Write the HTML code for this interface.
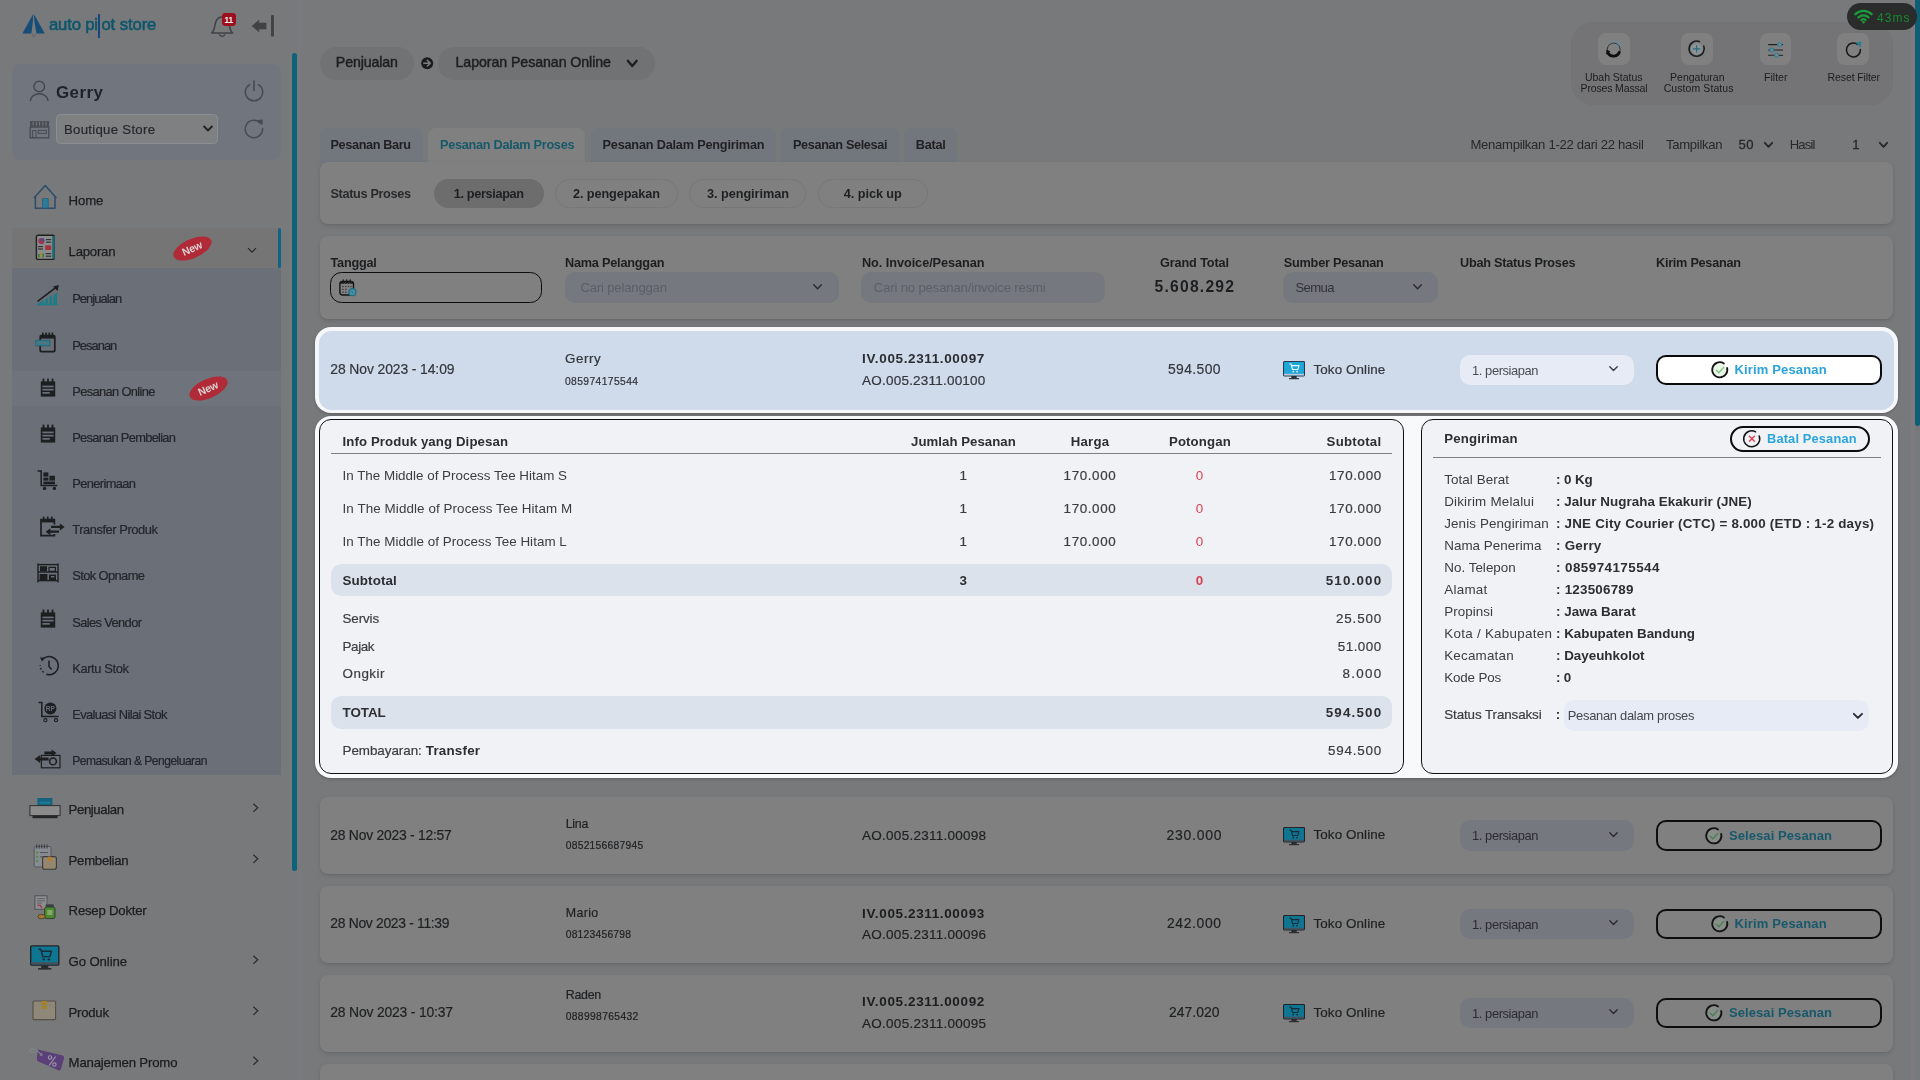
<!DOCTYPE html>
<html>
<head>
<meta charset="utf-8">
<style>
*{box-sizing:border-box;margin:0;padding:0}
html,body{width:1920px;height:1080px;overflow:hidden}
body{font-family:"Liberation Sans",sans-serif;background:#78797b;color:#222;position:relative}
.a{position:absolute}
.t{position:absolute;white-space:nowrap;line-height:1}
svg{overflow:visible}
#w{position:absolute;left:0;top:0;width:1920px;height:1080px;will-change:transform}
</style>
</head>
<body>
<div id="w">
<svg class="a" style="left:20px;top:12px;" width="28" height="28" viewBox="0 0 28 28">
      <polygon points="13.2,2 2.4,21.6 11.4,21.6 12.9,9" fill="#164d76"/>
      <polygon points="13.9,2 24.8,21.6 16.4,21.6 14.3,9" fill="#164d76"/>
      <path d="M12.2 21.8 L13.6 25.2 L15.6 21.8" fill="none" stroke="#5a626c" stroke-width="0.9"/>
    </svg>
<div class="t" style="left:49.00px;top:17.00px;font-size:16.7px;color:#0e566b;letter-spacing:-0.185px;-webkit-text-stroke:0.6px #0e566b;">auto pi</div>
<div class="a" style="left:98.3px;top:14px;width:1.8px;height:24px;background:#16467c;"></div>
<div class="t" style="left:101.40px;top:17.00px;font-size:16.7px;color:#0e566b;letter-spacing:-0.094px;-webkit-text-stroke:0.6px #0e566b;">ot store</div>
<svg class="a" style="left:209px;top:14px;" width="26" height="24" viewBox="0 0 26 24">
      <path d="M2.6 19 C5.8 16.4 5.4 12 6.6 8.4 C7.8 4.6 11 3 13.1 3 C15.2 3 18.4 4.6 19.6 8.4 C20.8 12 20.4 16.4 23.6 19 Z" fill="none" stroke="#404246" stroke-width="1.6" stroke-linejoin="round"/>
      <path d="M10.2 20.4 C11 23 15.2 23 16 20.4" fill="none" stroke="#404246" stroke-width="1.5"/>
    </svg>
<div class="a" style="left:221.8px;top:13px;width:14.2px;height:12.7px;background:#9d101d;border-radius:3.4px;"></div>
<div class="t" style="left:224.19px;top:16.00px;font-size:9.1px;color:#e8e8e8;font-weight:700;letter-spacing:-0.6px;">11</div>
<svg class="a" style="left:250px;top:14px;" width="26" height="24" viewBox="0 0 26 24">
      <polygon points="1.6,12 9.2,5.8 9.2,8.8 16.4,8.8 16.4,15.2 9.2,15.2 9.2,18.2" fill="#414244"/>
      <rect x="21" y="1" width="2.9" height="21.6" rx="1.2" fill="#414244"/>
    </svg>
<div class="a" style="left:12px;top:64px;width:269px;height:96px;background:#71767e;border-radius:8px;"></div>
<svg class="a" style="left:29px;top:79px;" width="21" height="24" viewBox="0 0 21 24">
      <circle cx="10.25" cy="7.5" r="5.3" fill="none" stroke="#44474c" stroke-width="1.4"/>
      <path d="M1.4 21.6 C2 12.6 18.4 12.6 19 21.6" fill="none" stroke="#44474c" stroke-width="1.5" stroke-linecap="round"/>
    </svg>
<div class="t" style="left:55.90px;top:85.00px;font-size:16.9px;color:#20242a;font-weight:700;letter-spacing:0.505px;">Gerry</div>
<svg class="a" style="left:243px;top:80px;" width="22" height="22" viewBox="0 0 22 22">
      <path d="M6.6 4.6 A8.7 8.7 0 1 0 15.4 4.6" fill="none" stroke="#474a50" stroke-width="1.6" stroke-linecap="round"/>
      <line x1="11" y1="1" x2="11" y2="10.5" stroke="#474a50" stroke-width="1.6" stroke-linecap="round"/>
    </svg>
<svg class="a" style="left:29px;top:119.5px;" width="21" height="19" viewBox="0 0 21 19">
      <rect x="1.2" y="7" width="18.6" height="10.8" fill="none" stroke="#484b50" stroke-width="1.3"/>
      <path d="M1 1 H20 V5.5 C20 8 17 8 16.8 5.5 C16.6 8 13.8 8 13.6 5.5 C13.4 8 10.6 8 10.4 5.5 C10.2 8 7.4 8 7.2 5.5 C7 8 4.2 8 4 5.5 C3.8 8 1 8 1 5.5 Z" fill="#4a4d52"/>
      <g stroke="#777b82" stroke-width="1"><line x1="4.2" y1="1.5" x2="4.2" y2="5.5"/><line x1="7.4" y1="1.5" x2="7.4" y2="5.5"/><line x1="10.6" y1="1.5" x2="10.6" y2="5.5"/><line x1="13.8" y1="1.5" x2="13.8" y2="5.5"/><line x1="17" y1="1.5" x2="17" y2="5.5"/></g>
      <rect x="3.6" y="10.6" width="3.4" height="7" fill="none" stroke="#484b50" stroke-width="1"/>
      <rect x="9.2" y="10.4" width="8.2" height="3" fill="none" stroke="#484b50" stroke-width="1"/>
    </svg>
<div class="a" style="left:55.5px;top:113.5px;width:162.5px;height:30px;background:#7f8082;border-radius:4.5px;border:1px solid #8b8e94;"></div>
<div class="t" style="left:64.00px;top:123.00px;font-size:13.2px;color:#26272a;letter-spacing:0.288px;-webkit-text-stroke:0.2px #26272a;">Boutique Store</div>
<svg class="a" style="left:202px;top:124px;" width="12" height="9" viewBox="0 0 12 9"><polyline points="1.6,2 6,6.4 10.4,2" fill="none" stroke="#232323" stroke-width="2"/></svg>
<svg class="a" style="left:243px;top:118px;" width="22" height="22" viewBox="0 0 22 22">
      <path d="M17.6 5.4 A8.7 8.7 0 1 0 19.6 10.4" fill="none" stroke="#474a50" stroke-width="1.5" stroke-linecap="round"/>
      <polygon points="14.2,2 19.8,1.6 19.4,7.2" fill="#474a50"/>
    </svg>
<svg class="a" style="left:32.5px;top:184px;" width="25" height="26" viewBox="0 0 25 26">
      <path d="M1.4 13.6 L12.2 1.6 L23 13.6" fill="none" stroke="#2a4d6a" stroke-width="1.5" stroke-linejoin="round" stroke-linecap="round"/>
      <path d="M2.4 12.6 V24.2 H22 V12.6" fill="none" stroke="#2a4d6a" stroke-width="1.5" stroke-linejoin="round"/>
      <rect x="9.6" y="14.6" width="5.6" height="9.4" fill="#2a7c98" stroke="#2a5f7e" stroke-width="0.8"/>
    </svg>
<div class="t" style="left:68.60px;top:194.00px;font-size:13.2px;color:#1c1d1f;letter-spacing:-0.162px;-webkit-text-stroke:0.25px #1c1d1f;">Home</div>
<div class="a" style="left:12px;top:228px;width:269px;height:40px;background:#757576;"></div>
<div class="a" style="left:277.8px;top:228px;width:3.2px;height:40px;background:#0f6485;border-radius:2px 2px 2px 2px;"></div>
<svg class="a" style="left:35px;top:234px;" width="21" height="27" viewBox="0 0 21 27">
      <rect x="1.4" y="1.2" width="17.8" height="24.2" rx="1.5" fill="#8a8d8f" stroke="#1f1f1f" stroke-width="1.4"/>
      <rect x="17.2" y="2" width="2.6" height="22.6" fill="#1f6a72"/>
      <circle cx="6.4" cy="7" r="3.1" fill="#9a3752"/><path d="M6.4 7 V3.9 A3.1 3.1 0 0 1 9.5 7 Z" fill="#3b4f8a"/>
      <rect x="11" y="5" width="5.2" height="1.2" fill="#333"/><rect x="11" y="7.6" width="5.2" height="1.2" fill="#333"/>
      <rect x="3" y="12" width="5" height="1.2" fill="#333"/><rect x="3" y="14.4" width="5" height="1.2" fill="#333"/>
      <rect x="10.2" y="11.4" width="6" height="4.6" fill="#a3323c"/>
      <rect x="3" y="20" width="1.6" height="3.4" fill="#2d7f3e"/><rect x="5.2" y="18.6" width="1.6" height="4.8" fill="#b5852b"/><rect x="7.4" y="19.6" width="1.6" height="3.8" fill="#2d7f3e"/>
      <rect x="10.6" y="19" width="5.6" height="1.2" fill="#333"/><rect x="10.6" y="21.6" width="5.6" height="1.2" fill="#333"/>
    </svg>
<div class="t" style="left:68.60px;top:245.00px;font-size:13.2px;color:#1c1d1f;letter-spacing:-0.251px;-webkit-text-stroke:0.25px #1c1d1f;">Laporan</div>
<div class="a" style="left:171.5px;top:239.0px;width:41px;height:19px;border-radius:50%;background:#b02b37;transform:rotate(-24deg);"></div>
<div class="t" style="left:180px;top:243.0px;font-size:10.5px;font-weight:700;color:#d9cfd0;transform:rotate(-24deg);letter-spacing:-0.2px;width:24px;text-align:center;">New</div>
<svg class="a" style="left:247px;top:247px;" width="10" height="7" viewBox="0 0 10 7"><polyline points="1,1.2 5,5.2 9,1.2" fill="none" stroke="#2a2a2a" stroke-width="1.2"/></svg>
<div class="a" style="left:12px;top:268px;width:269px;height:507px;background:#6a6f78;"></div>
<div class="a" style="left:12px;top:370.5px;width:269px;height:35.5px;background:#6f747c;"></div>
<div class="t" style="left:72.20px;top:293.00px;font-size:12.9px;color:#23252a;letter-spacing:-0.918px;-webkit-text-stroke:0.2px #23252a;">Penjualan</div>
<svg class="a" style="left:36px;top:283.85px;" width="24" height="22" viewBox="0 0 24 22">
          <polygon points="1.5,20 21,8.5 21,20" fill="#1c7d86"/>
          <g stroke="#6a6f78" stroke-width="1.3"><line x1="8.4" y1="14" x2="8.4" y2="20"/><line x1="12.6" y1="12" x2="12.6" y2="20"/><line x1="16.8" y1="9" x2="16.8" y2="20"/></g>
          <line x1="1.2" y1="20.6" x2="21.6" y2="20.6" stroke="#1c7d86" stroke-width="1.4"/>
          <line x1="1.6" y1="17.4" x2="20" y2="3.4" stroke="#1d1e20" stroke-width="1.6"/>
          <polygon points="22.8,1 21.6,7 17,2.4" fill="#1d1e20"/>
        </svg>
<div class="t" style="left:72.20px;top:340.00px;font-size:12.9px;color:#23252a;letter-spacing:-0.965px;-webkit-text-stroke:0.2px #23252a;">Pesanan</div>
<svg class="a" style="left:35px;top:331.53000000000003px;" width="22" height="21" viewBox="0 0 22 21">
          <rect x="5.2" y="3.6" width="14.6" height="16" rx="1" fill="none" stroke="#1d1e20" stroke-width="1.7"/>
          <rect x="7" y="0.6" width="1.7" height="4.6" fill="#1d1e20"/><rect x="10.2" y="0.6" width="1.7" height="4.6" fill="#1d1e20"/><rect x="13.4" y="0.6" width="1.7" height="4.6" fill="#1d1e20"/><rect x="16.6" y="0.6" width="1.7" height="4.6" fill="#1d1e20"/>
          <rect x="5.4" y="3.6" width="14.2" height="3" fill="#1d1e20"/>
          <rect x="0.8" y="8.2" width="14.2" height="5.6" fill="#347c8a" stroke="#25626f" stroke-width="0.8"/>
          <rect x="3" y="10.2" width="9.6" height="1.6" fill="#6a6f78" opacity=".7"/>
        </svg>
<div class="t" style="left:72.20px;top:386.00px;font-size:12.9px;color:#23252a;letter-spacing:-0.649px;-webkit-text-stroke:0.2px #23252a;">Pesanan Online</div>
<svg class="a" style="left:40px;top:378.21000000000004px;" width="16" height="20" viewBox="0 0 16 20">
          <rect x="0.8" y="3.4" width="14.4" height="15.2" fill="#1d1e20"/>
          <rect x="2.6" y="0.6" width="1.8" height="4.4" fill="#1d1e20"/><rect x="7.1" y="0.6" width="1.8" height="4.4" fill="#1d1e20"/><rect x="11.6" y="0.6" width="1.8" height="4.4" fill="#1d1e20"/>
          <rect x="2.4" y="7.6" width="11.2" height="1.7" fill="#6a6f78"/><rect x="2.4" y="10.8" width="11.2" height="1.7" fill="#6a6f78"/><rect x="2.4" y="14" width="7.4" height="1.7" fill="#6a6f78"/>
        </svg>
<div class="t" style="left:72.20px;top:432.00px;font-size:12.9px;color:#23252a;letter-spacing:-0.724px;-webkit-text-stroke:0.2px #23252a;">Pesanan Pembelian</div>
<svg class="a" style="left:40px;top:424.39px;" width="16" height="20" viewBox="0 0 16 20">
          <rect x="0.8" y="3.4" width="14.4" height="15.2" fill="#1d1e20"/>
          <rect x="2.6" y="0.6" width="1.8" height="4.4" fill="#1d1e20"/><rect x="7.1" y="0.6" width="1.8" height="4.4" fill="#1d1e20"/><rect x="11.6" y="0.6" width="1.8" height="4.4" fill="#1d1e20"/>
          <rect x="2.4" y="7.6" width="11.2" height="1.7" fill="#6a6f78"/><rect x="2.4" y="10.8" width="11.2" height="1.7" fill="#6a6f78"/><rect x="2.4" y="14" width="7.4" height="1.7" fill="#6a6f78"/>
        </svg>
<div class="t" style="left:72.20px;top:478.00px;font-size:12.9px;color:#23252a;letter-spacing:-0.635px;-webkit-text-stroke:0.2px #23252a;">Penerimaan</div>
<svg class="a" style="left:36.5px;top:470.07000000000005px;" width="22" height="21" viewBox="0 0 22 21">
          <polyline points="0.6,1 4.2,1 4.2,15.4 20.4,15.4" fill="none" stroke="#1d1e20" stroke-width="1.5"/>
          <rect x="6.4" y="2.4" width="5" height="4.2" fill="#1d1e20"/>
          <rect x="6.4" y="7.6" width="5" height="3" fill="#1d1e20"/><rect x="12.4" y="5.8" width="5.6" height="4.8" fill="#1d1e20"/>
          <rect x="6.4" y="11.6" width="11.6" height="2.6" fill="#1d1e20"/>
          <circle cx="7.6" cy="18.4" r="1.7" fill="#1d1e20"/><circle cx="17.4" cy="18.4" r="1.7" fill="#1d1e20"/>
        </svg>
<div class="t" style="left:72.20px;top:524.00px;font-size:12.9px;color:#23252a;letter-spacing:-0.440px;-webkit-text-stroke:0.2px #23252a;">Transfer Produk</div>
<svg class="a" style="left:39.5px;top:516.25px;" width="26" height="21" viewBox="0 0 26 21">
          <path d="M14.4 8.6 V3.6 H1 V19.6 H14.4 V18" fill="none" stroke="#1d1e20" stroke-width="1.7"/>
          <rect x="1" y="3.6" width="13.4" height="2.8" fill="#1d1e20"/>
          <rect x="2.8" y="0.6" width="1.7" height="4.2" fill="#1d1e20"/><rect x="6.85" y="0.6" width="1.7" height="4.2" fill="#1d1e20"/><rect x="10.9" y="0.6" width="1.7" height="4.2" fill="#1d1e20"/>
          <path d="M11 9.8 H19.8 V7.4 L24.6 10.9 L19.8 14.4 V12 H11 Z" fill="#1d1e20"/>
          <path d="M19 14.6 H10.4 V12.2 L5.6 15.7 L10.4 19.2 V16.8 H19 Z" fill="#1d1e20"/>
        </svg>
<div class="t" style="left:72.20px;top:570.00px;font-size:12.9px;color:#23252a;letter-spacing:-0.603px;-webkit-text-stroke:0.2px #23252a;">Stok Opname</div>
<svg class="a" style="left:37px;top:563.4300000000001px;" width="22" height="20" viewBox="0 0 22 20">
          <g stroke="#1d1e20" stroke-width="1.4" fill="none"><line x1="1" y1="0.4" x2="1" y2="19.4"/><line x1="21" y1="0.4" x2="21" y2="19.4"/><line x1="1" y1="9" x2="21" y2="9"/><line x1="1" y1="17.6" x2="21" y2="17.6"/><line x1="1" y1="1.6" x2="21" y2="1.6"/></g>
          <rect x="3" y="3.2" width="7" height="5.2" fill="#1d1e20"/><rect x="12" y="4.4" width="6.4" height="4" fill="none" stroke="#1d1e20" stroke-width="1.2"/>
          <rect x="2.6" y="11" width="7.8" height="6" fill="#1d1e20"/><rect x="12" y="11.6" width="7" height="5.4" fill="#1d1e20"/>
          <rect x="14" y="13" width="3.4" height="1.4" fill="#6a6f78"/>
        </svg>
<div class="t" style="left:72.20px;top:617.00px;font-size:12.9px;color:#23252a;letter-spacing:-0.626px;-webkit-text-stroke:0.2px #23252a;">Sales Vendor</div>
<svg class="a" style="left:40px;top:609.11px;" width="16" height="20" viewBox="0 0 16 20">
          <rect x="0.8" y="3.4" width="14.4" height="15.2" fill="#1d1e20"/>
          <rect x="2.6" y="0.6" width="1.8" height="4.4" fill="#1d1e20"/><rect x="7.1" y="0.6" width="1.8" height="4.4" fill="#1d1e20"/><rect x="11.6" y="0.6" width="1.8" height="4.4" fill="#1d1e20"/>
          <rect x="2.4" y="7.6" width="11.2" height="1.7" fill="#6a6f78"/><rect x="2.4" y="10.8" width="11.2" height="1.7" fill="#6a6f78"/><rect x="2.4" y="14" width="7.4" height="1.7" fill="#6a6f78"/>
        </svg>
<div class="t" style="left:72.20px;top:663.00px;font-size:12.9px;color:#23252a;letter-spacing:-0.376px;-webkit-text-stroke:0.2px #23252a;">Kartu Stok</div>
<svg class="a" style="left:37.5px;top:654.79px;" width="22" height="22" viewBox="0 0 22 22">
          <path d="M6.2 3.2 A9 9 0 1 1 8.4 19.2" fill="none" stroke="#1d1e20" stroke-width="1.5"/>
          <path d="M5.6 17.4 A9 9 0 0 1 2.2 10" fill="none" stroke="#1d1e20" stroke-width="1.5" stroke-dasharray="1.6 2.2"/>
          <polygon points="2,2.6 7.4,2.4 4,6.6" fill="#1d1e20"/>
          <polyline points="11,5.6 11,11.4 13.6,14.4" fill="none" stroke="#1d1e20" stroke-width="1.5"/>
        </svg>
<div class="t" style="left:72.20px;top:709.00px;font-size:12.9px;color:#23252a;letter-spacing:-0.637px;-webkit-text-stroke:0.2px #23252a;">Evaluasi Nilai Stok</div>
<svg class="a" style="left:37.5px;top:700.97px;" width="22" height="22" viewBox="0 0 22 22">
          <polyline points="0.6,1.4 3.8,1.4 3.8,15.6 20.6,15.6" fill="none" stroke="#1d1e20" stroke-width="1.5"/>
          <circle cx="12.4" cy="7.6" r="6" fill="#1d1e20"/>
          <text x="12.4" y="10" font-size="6.6" font-weight="700" font-family="Liberation Sans" text-anchor="middle" fill="#6a6f78">RP</text>
          <circle cx="7.4" cy="19.2" r="1.6" fill="none" stroke="#1d1e20" stroke-width="1.1"/><circle cx="18" cy="19.2" r="1.6" fill="none" stroke="#1d1e20" stroke-width="1.1"/>
        </svg>
<div class="t" style="left:72.20px;top:755.00px;font-size:12.1px;color:#23252a;letter-spacing:-0.543px;-webkit-text-stroke:0.2px #23252a;">Pemasukan &amp; Pengeluaran</div>
<svg class="a" style="left:34px;top:748.6500000000001px;" width="27" height="20" viewBox="0 0 27 20">
          <rect x="7.4" y="6.4" width="18.6" height="12.4" fill="none" stroke="#1d1e20" stroke-width="1.2"/>
          <circle cx="19" cy="12.4" r="3.4" fill="none" stroke="#1d1e20" stroke-width="1.6"/>
          <path d="M10.4 2.6 H17.6 V0.4 L22.6 4 L17.6 7.6 V5.4 H10.4 Z" fill="#1d1e20"/>
          <path d="M14.6 8.4 H6.2 V6 L0.6 10 L6.2 14 V11.6 H14.6 Z" fill="#1d1e20"/>
        </svg>
<div class="a" style="left:187.9px;top:378.8px;width:41px;height:19px;border-radius:50%;background:#b02b37;transform:rotate(-24deg);"></div>
<div class="t" style="left:196.4px;top:382.8px;font-size:10.5px;font-weight:700;color:#d9cfd0;transform:rotate(-24deg);letter-spacing:-0.2px;width:24px;text-align:center;">New</div>
<div class="t" style="left:68.60px;top:803.00px;font-size:13.2px;color:#1c1d1f;letter-spacing:-0.409px;-webkit-text-stroke:0.25px #1c1d1f;">Penjualan</div>
<svg class="a" style="left:251.5px;top:803.1px;" width="8" height="10" viewBox="0 0 8 10"><polyline points="1.4,0.8 5.8,4.8 1.4,8.8" fill="none" stroke="#2a2a2a" stroke-width="1.2"/></svg>
<svg class="a" style="left:28.5px;top:796.8000000000001px;" width="32" height="22" viewBox="0 0 32 22">
          <rect x="8.4" y="1" width="15" height="7.6" fill="#14627d"/>
          <rect x="10.4" y="4.6" width="11" height="2.2" fill="#1f7b96"/>
          <rect x="0.9" y="8.6" width="30.2" height="10" fill="#8b8b8c" stroke="#2e2f31" stroke-width="1"/>
          <rect x="3.5" y="18.6" width="25" height="2.6" fill="#252627"/>
        </svg>
<div class="t" style="left:68.60px;top:854.00px;font-size:13.2px;color:#1c1d1f;letter-spacing:-0.289px;-webkit-text-stroke:0.25px #1c1d1f;">Pembelian</div>
<svg class="a" style="left:251.5px;top:853.7px;" width="8" height="10" viewBox="0 0 8 10"><polyline points="1.4,0.8 5.8,4.8 1.4,8.8" fill="none" stroke="#2a2a2a" stroke-width="1.2"/></svg>
<svg class="a" style="left:32.5px;top:844.2px;" width="25" height="27" viewBox="0 0 25 27">
          <rect x="1.2" y="2.6" width="16.8" height="20.4" rx="1" fill="#878c92" stroke="#55595f" stroke-width="1"/>
          <g stroke="#3a3c3f" stroke-width="1.1"><line x1="3.6" y1="0.6" x2="3.6" y2="4.6"/><line x1="6.2" y1="0.6" x2="6.2" y2="4.6"/><line x1="8.8" y1="0.6" x2="8.8" y2="4.6"/><line x1="11.4" y1="0.6" x2="11.4" y2="4.6"/><line x1="14" y1="0.6" x2="14" y2="4.6"/></g>
          <g fill="#5f8a4c"><rect x="3" y="7.4" width="2.4" height="2.4"/><rect x="3" y="11.6" width="2.4" height="2.4"/><rect x="3" y="15.8" width="2.4" height="2.4"/></g>
          <g stroke="#50545a" stroke-width="1"><line x1="7" y1="8.6" x2="15" y2="8.6"/><line x1="7" y1="12.8" x2="12" y2="12.8"/></g>
          <rect x="9.6" y="12.6" width="13.8" height="12.6" rx="2" fill="#94876f" stroke="#3b3a38" stroke-width="1.1"/>
          <rect x="14.8" y="12.6" width="3.4" height="4.6" fill="#b87b32"/>
        </svg>
<div class="t" style="left:68.60px;top:904.00px;font-size:13.2px;color:#1c1d1f;letter-spacing:-0.231px;-webkit-text-stroke:0.25px #1c1d1f;">Resep Dokter</div>
<svg class="a" style="left:33.5px;top:894.8px;" width="23" height="25" viewBox="0 0 23 25">
          <path d="M1 0.8 H13 V4 M1 0.8 V14.4 H7" fill="none" stroke="#55585d" stroke-width="1"/>
          <rect x="1" y="0.8" width="12" height="13.6" fill="#8a8d91" stroke="#55585d" stroke-width="1"/>
          <g stroke="#5a5d62" stroke-width="0.9"><line x1="3" y1="3.6" x2="11" y2="3.6"/><line x1="3" y1="5.8" x2="11" y2="5.8"/><line x1="3" y1="8" x2="8" y2="8"/></g>
          <path d="M3.4 10.4 h3 l1.6 3" stroke="#a8323e" stroke-width="1.2" fill="none"/>
          <rect x="11.6" y="9.2" width="8.2" height="3" rx="0.8" fill="#3d4145"/>
          <rect x="10.6" y="12" width="10.4" height="11.6" rx="2" fill="#4a8a2e" stroke="#2f3a2a" stroke-width="0.9"/>
          <rect x="13.2" y="15" width="5.2" height="5" fill="#86a86b"/>
          <ellipse cx="7.6" cy="21.6" rx="3.6" ry="2.2" fill="#a8762e" stroke="#4a3a22" stroke-width="0.8"/>
        </svg>
<div class="t" style="left:68.60px;top:955.00px;font-size:13.2px;color:#1c1d1f;letter-spacing:-0.124px;-webkit-text-stroke:0.25px #1c1d1f;">Go Online</div>
<svg class="a" style="left:251.5px;top:954.9px;" width="8" height="10" viewBox="0 0 8 10"><polyline points="1.4,0.8 5.8,4.8 1.4,8.8" fill="none" stroke="#2a2a2a" stroke-width="1.2"/></svg>
<svg class="a" style="left:30px;top:945.1999999999999px;" width="29.5" height="25.5" viewBox="0 0 30 25.5">
      <rect x="0.7" y="0.7" width="28.6" height="19.6" rx="1.2" fill="#0e7593" stroke="#222326" stroke-width="1.4"/>
      <rect x="1.4" y="17.4" width="27.2" height="2.2" fill="#4a4e55"/>
      <rect x="11.4" y="20.4" width="7.2" height="3" fill="#2a2b2d"/>
      <rect x="8.2" y="23.2" width="13.6" height="1.6" fill="#2a2b2d"/>
      <path d="M8.6 4 H11 L13 11.6 H20.2 L21.8 6.2 H11.6" fill="none" stroke="#1c2a33" stroke-width="1.5" stroke-linejoin="round"/>
      <circle cx="14" cy="14.4" r="1.2" fill="#1c2a33"/><circle cx="19.2" cy="14.4" r="1.2" fill="#1c2a33"/>
    </svg>
<div class="t" style="left:68.60px;top:1006.00px;font-size:13.2px;color:#1c1d1f;letter-spacing:-0.279px;-webkit-text-stroke:0.25px #1c1d1f;">Produk</div>
<svg class="a" style="left:251.5px;top:1005.5px;" width="8" height="10" viewBox="0 0 8 10"><polyline points="1.4,0.8 5.8,4.8 1.4,8.8" fill="none" stroke="#2a2a2a" stroke-width="1.2"/></svg>
<svg class="a" style="left:32.4px;top:1000px;" width="25" height="21" viewBox="0 0 25 21">
          <rect x="1" y="1" width="22.6" height="18.6" rx="1" fill="#8f8878" stroke="#544f47" stroke-width="1.1"/>
          <rect x="9.6" y="1" width="5.4" height="8" fill="#a3832a"/>
          <line x1="1" y1="5.6" x2="23.6" y2="5.6" stroke="#8a8274" stroke-width="0.8"/>
        </svg>
<div class="t" style="left:68.60px;top:1056.00px;font-size:13.2px;color:#1c1d1f;letter-spacing:-0.180px;-webkit-text-stroke:0.25px #1c1d1f;">Manajemen Promo</div>
<svg class="a" style="left:251.5px;top:1056.1px;" width="8" height="10" viewBox="0 0 8 10"><polyline points="1.4,0.8 5.8,4.8 1.4,8.8" fill="none" stroke="#2a2a2a" stroke-width="1.2"/></svg>
<svg class="a" style="left:27.5px;top:1045.6px;" width="38" height="27" viewBox="0 0 38 27">
          <path d="M10 3.6 L34.6 9.6 Q36.6 10.2 36 12.2 L33 23 Q32.4 25 30.4 24.2 L10.4 15.4 Q9 14.6 8.8 13 Z" fill="#5a3f78"/>
          <circle cx="13.2" cy="8.4" r="1.5" fill="#7b7c7e"/>
          <path d="M12.4 7.6 C8 2.4 1.4 1.4 1.6 4.4 C1.8 6.6 5.4 6.8 7.6 6" fill="none" stroke="#85878c" stroke-width="1.1"/>
          <g stroke="#9c93a8" stroke-width="1.1" fill="none"><circle cx="22" cy="11.4" r="1.7"/><circle cx="26.4" cy="18.6" r="1.7"/><line x1="27.6" y1="10.6" x2="21" y2="19.6"/></g>
        </svg>
<div class="a" style="left:292px;top:53px;width:5.2px;height:818px;background:#0e637b;border-radius:2.6px;"></div>
<div class="a" style="left:298.6px;top:0px;width:1.6px;height:1080px;background:#7d7a80;"></div>
<div class="a" style="left:1910.6px;top:0px;width:4px;height:1080px;background:#7e7b80;"></div>
<div class="a" style="left:1914.6px;top:-4px;width:5.4px;height:430px;background:#0e5f76;border-radius:2.7px;"></div>
<div class="a" style="left:319.5px;top:47px;width:94.5px;height:32.5px;background:#717273;border-radius:16.5px;"></div>
<div class="t" style="left:335.80px;top:55.00px;font-size:14.2px;color:#1e1f21;letter-spacing:-0.116px;-webkit-text-stroke:0.45px #1e1f21;">Penjualan</div>
<svg class="a" style="left:420.5px;top:56.8px;" width="12.4" height="12.4" viewBox="0 0 12.4 12.4">
      <circle cx="6.2" cy="6.2" r="6" fill="#1c1c1d"/>
      <path d="M2.8 6.2 H9 M6.4 3.4 L9.3 6.2 L6.4 9" fill="none" stroke="#7d7e80" stroke-width="1.5" stroke-linecap="round" stroke-linejoin="round"/>
    </svg>
<div class="a" style="left:438px;top:47px;width:216.5px;height:32.5px;background:#717273;border-radius:16.5px;"></div>
<div class="t" style="left:455.50px;top:55.00px;font-size:14.2px;color:#1e1f21;letter-spacing:-0.071px;-webkit-text-stroke:0.45px #1e1f21;">Laporan Pesanan Online</div>
<svg class="a" style="left:627px;top:60.2px;" width="10.5" height="7" viewBox="0 0 10.5 7"><polyline points="0.8,0.8 5.25,6.1 9.7,0.8" fill="none" stroke="#1f2021" stroke-width="2.4" stroke-linecap="round" stroke-linejoin="round"/></svg>
<div class="a" style="left:1571px;top:22px;width:322px;height:83px;background:#747476;border-radius:22px;"></div>
<div class="a" style="left:1598.0px;top:33.4px;width:31.6px;height:31.4px;background:#808081;border-radius:8px;"></div>
<div class="a" style="left:1681.0px;top:33.4px;width:31.6px;height:31.4px;background:#808081;border-radius:8px;"></div>
<div class="a" style="left:1759.5px;top:33.4px;width:31.6px;height:31.4px;background:#808081;border-radius:8px;"></div>
<div class="a" style="left:1837.2px;top:33.4px;width:31.6px;height:31.4px;background:#808081;border-radius:8px;"></div>
<svg class="a" style="left:1604px;top:39.5px;" width="20" height="19" viewBox="0 0 20 19">
      <circle cx="9.7" cy="9.4" r="6.4" fill="none" stroke="#2a2b2d" stroke-width="0.9"/>
      <path d="M15 4.2 A7 7 0 0 0 5.2 3.4" fill="none" stroke="#5f8ea0" stroke-width="1.4" stroke-dasharray="1.6 1.2"/>
      <rect x="13.6" y="3" width="3.2" height="3.2" fill="none" stroke="#5f8ea0" stroke-width="0.9" stroke-dasharray="1.2 0.8"/>
      <path d="M15.6 11.4 A6.3 6.3 0 0 1 3.8 12.6" fill="none" stroke="#0e0e0f" stroke-width="2.8"/>
      <polygon points="2.2,14.6 2.4,9.4 6.4,11.6" fill="#0e0e0f"/>
    </svg>
<svg class="a" style="left:1688px;top:40px;" width="18" height="18" viewBox="0 0 18 18">
      <circle cx="8.6" cy="8.8" r="5.6" fill="#8b9395"/>
      <path d="M11.4 1.6 A7.6 7.6 0 1 0 15.8 6" fill="none" stroke="#1d1e20" stroke-width="1.6" stroke-linecap="round"/>
      <path d="M8.6 5.6 V12 M5.4 8.8 H11.8" stroke="#2a6c80" stroke-width="1.2" stroke-linecap="round"/>
    </svg>
<svg class="a" style="left:1767.5px;top:41.5px;" width="16" height="16" viewBox="0 0 16 16">
      <g stroke="#1f2022" stroke-width="1.1" stroke-linecap="round" fill="none">
        <line x1="0.6" y1="2.6" x2="14.6" y2="2.6"/><line x1="0.6" y1="8" x2="14.6" y2="8"/><line x1="0.6" y1="13.2" x2="14.6" y2="13.2"/></g>
      <g stroke="#2b7f96" stroke-width="1.1" fill="#80898c">
        <circle cx="11.6" cy="2.6" r="1.9"/><circle cx="3.8" cy="8" r="1.9"/><circle cx="8.6" cy="13.2" r="1.9"/></g>
    </svg>
<svg class="a" style="left:1844.5px;top:40.5px;" width="17" height="17" viewBox="0 0 17 17">
      <path d="M12.6 3.4 A7 7 0 1 0 15.4 8.4" fill="none" stroke="#141516" stroke-width="1.5" stroke-linecap="round"/>
      <polygon points="10.4,1.4 16.4,0.6 15.6,6.4" fill="#2a7f8e"/>
    </svg>
<div class="t" style="left:1585.00px;top:72.00px;font-size:10.5px;color:#1b1c1e;letter-spacing:-0.030px;">Ubah Status</div>
<div class="t" style="left:1580.60px;top:83.00px;font-size:10.5px;color:#1b1c1e;letter-spacing:-0.155px;">Proses Massal</div>
<div class="t" style="left:1670.00px;top:72.00px;font-size:10.5px;color:#1b1c1e;letter-spacing:0.023px;">Pengaturan</div>
<div class="t" style="left:1663.70px;top:83.00px;font-size:10.5px;color:#1b1c1e;letter-spacing:0.077px;">Custom Status</div>
<div class="t" style="left:1764.00px;top:72.00px;font-size:10.5px;color:#1b1c1e;letter-spacing:0.031px;">Filter</div>
<div class="t" style="left:1827.60px;top:72.00px;font-size:10.5px;color:#1b1c1e;letter-spacing:-0.117px;">Reset Filter</div>
<div class="a" style="left:1847px;top:2.8px;width:70px;height:27.4px;background:#2a2b2b;border-radius:13.5px;"></div>
<svg class="a" style="left:1853.6px;top:9px;" width="19" height="14.4" viewBox="0 0 19 14.4">
      <g fill="none" stroke="#1d9c3a" stroke-linecap="round">
      <path d="M1.4 5.2 A11.6 11.6 0 0 1 17.6 5.2" stroke-width="2.3"/>
      <path d="M4.4 8.4 A7.4 7.4 0 0 1 14.6 8.4" stroke-width="2.2"/>
      <path d="M7.2 11.2 A3.4 3.4 0 0 1 11.8 11.2" stroke-width="2"/></g>
      <circle cx="9.5" cy="13.2" r="1.2" fill="#1d9c3a"/>
    </svg>
<div class="t" style="left:1877.00px;top:13.00px;font-size:11.9px;color:#168a30;letter-spacing:1.141px;">43ms</div>
<div class="a" style="left:319.5px;top:127.6px;width:103.0px;height:40px;background:#72767d;border-radius:8px 8px 0 0;"></div>
<div class="t" style="left:330.50px;top:139.00px;font-size:12.7px;color:#1f2023;font-weight:700;letter-spacing:-0.375px;">Pesanan Baru</div>
<div class="a" style="left:428px;top:127.6px;width:157px;height:40px;background:#808080;border-radius:8px 8px 0 0;"></div>
<div class="t" style="left:440.00px;top:139.00px;font-size:12.7px;color:#16596a;font-weight:700;letter-spacing:-0.271px;">Pesanan Dalam Proses</div>
<div class="a" style="left:590.8px;top:127.6px;width:185.20000000000005px;height:40px;background:#72767d;border-radius:8px 8px 0 0;"></div>
<div class="t" style="left:602.50px;top:139.00px;font-size:12.7px;color:#1f2023;font-weight:700;letter-spacing:-0.192px;">Pesanan Dalam Pengiriman</div>
<div class="a" style="left:781px;top:127.6px;width:117.79999999999995px;height:40px;background:#72767d;border-radius:8px 8px 0 0;"></div>
<div class="t" style="left:793.00px;top:139.00px;font-size:12.7px;color:#1f2023;font-weight:700;letter-spacing:-0.354px;">Pesanan Selesai</div>
<div class="a" style="left:904px;top:127.6px;width:52.799999999999955px;height:40px;background:#72767d;border-radius:8px 8px 0 0;"></div>
<div class="t" style="left:915.80px;top:139.00px;font-size:12.7px;color:#1f2023;font-weight:700;letter-spacing:-0.258px;">Batal</div>
<div class="t" style="left:1470.50px;top:138.00px;font-size:13.1px;color:#27282a;letter-spacing:-0.299px;">Menampilkan 1-22 dari 22 hasil</div>
<div class="t" style="left:1666.00px;top:138.00px;font-size:13.1px;color:#27282a;letter-spacing:-0.307px;">Tampilkan</div>
<div class="t" style="left:1738.50px;top:138.00px;font-size:13.1px;color:#27282a;letter-spacing:0.422px;-webkit-text-stroke:0.3px #27282a;">50</div>
<svg class="a" style="left:1763.6px;top:141.6px;" width="9" height="5.8" viewBox="0 0 9 5.8"><polyline points="0.8,0.8 4.5,4.8999999999999995 8.2,0.8" fill="none" stroke="#27282a" stroke-width="1.8" stroke-linecap="round" stroke-linejoin="round"/></svg>
<div class="t" style="left:1789.70px;top:138.00px;font-size:13.1px;color:#27282a;letter-spacing:-0.827px;">Hasil</div>
<div class="t" style="left:1852.15px;top:138.00px;font-size:13.1px;color:#27282a;-webkit-text-stroke:0.3px #27282a;">1</div>
<svg class="a" style="left:1878.6px;top:141.6px;" width="9" height="5.8" viewBox="0 0 9 5.8"><polyline points="0.8,0.8 4.5,4.8999999999999995 8.2,0.8" fill="none" stroke="#27282a" stroke-width="1.8" stroke-linecap="round" stroke-linejoin="round"/></svg>
<div class="a" style="left:319.5px;top:162px;width:1573.5px;height:62px;background:#808080;border-radius:8px;box-shadow:0 2px 5px rgba(0,0,0,.11), 0 1px 2px rgba(0,0,0,.06);"></div>
<div class="t" style="left:330.50px;top:188.00px;font-size:12.7px;color:#28292b;font-weight:700;letter-spacing:-0.344px;">Status Proses</div>
<div class="a" style="left:434px;top:179px;width:109.8px;height:29px;background:#6d6d6e;border-radius:14.5px;"></div>
<div class="t" style="left:453.80px;top:188.00px;font-size:12.7px;color:#1e1f21;font-weight:700;letter-spacing:-0.350px;">1. persiapan</div>
<div class="a" style="left:555px;top:179px;width:122.5px;height:29px;background:transparent;border-radius:14.5px;border:1px solid #767778;"></div>
<div class="t" style="left:573.00px;top:188.00px;font-size:12.7px;color:#1e1f21;font-weight:700;letter-spacing:-0.095px;">2. pengepakan</div>
<div class="a" style="left:689px;top:179px;width:117px;height:29px;background:transparent;border-radius:14.5px;border:1px solid #767778;"></div>
<div class="t" style="left:707.00px;top:188.00px;font-size:12.7px;color:#1e1f21;font-weight:700;letter-spacing:-0.042px;">3. pengiriman</div>
<div class="a" style="left:818px;top:179px;width:109.5px;height:29px;background:transparent;border-radius:14.5px;border:1px solid #767778;"></div>
<div class="t" style="left:843.80px;top:188.00px;font-size:12.7px;color:#1e1f21;font-weight:700;letter-spacing:-0.059px;">4. pick up</div>
<div class="a" style="left:319.5px;top:235.5px;width:1573.5px;height:83px;background:#808080;border-radius:8px;box-shadow:0 2px 5px rgba(0,0,0,.11), 0 1px 2px rgba(0,0,0,.06);"></div>
<div class="t" style="left:330.50px;top:257.00px;font-size:12.7px;color:#1d1e20;font-weight:700;letter-spacing:-0.234px;">Tanggal</div>
<div class="t" style="left:565.00px;top:257.00px;font-size:12.7px;color:#1d1e20;font-weight:700;letter-spacing:-0.212px;">Nama Pelanggan</div>
<div class="t" style="left:862.00px;top:257.00px;font-size:12.7px;color:#1d1e20;font-weight:700;letter-spacing:-0.050px;">No. Invoice/Pesanan</div>
<div class="t" style="left:1160.00px;top:257.00px;font-size:12.7px;color:#1d1e20;font-weight:700;letter-spacing:-0.127px;">Grand Total</div>
<div class="t" style="left:1283.80px;top:257.00px;font-size:12.7px;color:#1d1e20;font-weight:700;letter-spacing:-0.227px;">Sumber Pesanan</div>
<div class="t" style="left:1460.00px;top:257.00px;font-size:12.7px;color:#1d1e20;font-weight:700;letter-spacing:-0.257px;">Ubah Status Proses</div>
<div class="t" style="left:1656.00px;top:257.00px;font-size:12.7px;color:#1d1e20;font-weight:700;letter-spacing:-0.263px;">Kirim Pesanan</div>
<div class="a" style="left:330px;top:272px;width:212px;height:31px;background:transparent;border-radius:11.5px;border:1.6px solid #0c0c0c;"></div>
<svg class="a" style="left:338.6px;top:278.6px;" width="18" height="18" viewBox="0 0 18 18">
      <rect x="0.9" y="2.4" width="13.6" height="13.6" rx="2.6" fill="none" stroke="#131314" stroke-width="1.4"/>
      <path d="M1.4 4.4 Q3 3.2 4.2 4.2 Q5.6 3.2 6.9 4.2 Q8.2 3.2 9.5 4.2 Q10.9 3.2 12.2 4.2 Q13.2 3.4 14 4.4" fill="none" stroke="#131314" stroke-width="1.3"/>
      <g stroke="#131314" stroke-width="1.2" stroke-linecap="round"><line x1="4.2" y1="0.9" x2="4.2" y2="3"/><line x1="7.7" y1="0.9" x2="7.7" y2="3"/><line x1="11.2" y1="0.9" x2="11.2" y2="3"/></g>
      <g fill="#3a3b3e"><rect x="3.2" y="7" width="1.5" height="1.1"/><rect x="6" y="7" width="1.5" height="1.1"/><rect x="8.8" y="7" width="1.5" height="1.1"/><rect x="11.4" y="7" width="1.3" height="1.1"/><rect x="3.2" y="9.8" width="1.5" height="1.1"/><rect x="6" y="9.8" width="1.5" height="1.1"/><rect x="3.2" y="12.6" width="1.5" height="1.1"/><rect x="6" y="12.6" width="1.5" height="1.1"/></g>
      <circle cx="13.4" cy="13.2" r="3.5" fill="#4a8ea3" stroke="#1b6d86" stroke-width="1.2"/>
      <path d="M12 11.8 L14.4 14.2" stroke="#1b6d86" stroke-width="0.9" fill="none"/>
    </svg>
<div class="a" style="left:564.5px;top:272.4px;width:274px;height:30.2px;background:#75787f;border-radius:10px;"></div>
<div class="t" style="left:580.50px;top:281.00px;font-size:13.1px;color:#5b5f67;letter-spacing:-0.178px;">Cari pelanggan</div>
<svg class="a" style="left:813px;top:284px;" width="9.2" height="5.6" viewBox="0 0 9.2 5.6"><polyline points="0.8,0.8 4.6,4.699999999999999 8.399999999999999,0.8" fill="none" stroke="#2c2d30" stroke-width="1.5" stroke-linecap="round" stroke-linejoin="round"/></svg>
<div class="a" style="left:861px;top:272.4px;width:244px;height:30.2px;background:#75787f;border-radius:10px;"></div>
<div class="t" style="left:873.80px;top:281.00px;font-size:13.1px;color:#5b5f67;letter-spacing:-0.148px;">Cari no pesanan/invoice resmi</div>
<div class="t" style="left:1154.50px;top:279.00px;font-size:15.7px;color:#1d1e20;font-weight:700;letter-spacing:1.213px;">5.608.292</div>
<div class="a" style="left:1283px;top:272.4px;width:155px;height:30.2px;background:#75787f;border-radius:10px;"></div>
<div class="t" style="left:1295.50px;top:281.00px;font-size:13.1px;color:#303237;letter-spacing:-0.625px;">Semua</div>
<svg class="a" style="left:1412.6px;top:284px;" width="9.2" height="5.6" viewBox="0 0 9.2 5.6"><polyline points="0.8,0.8 4.6,4.699999999999999 8.399999999999999,0.8" fill="none" stroke="#2c2d30" stroke-width="1.5" stroke-linecap="round" stroke-linejoin="round"/></svg>
<div class="a" style="left:319.5px;top:797px;width:1573.5px;height:77px;background:#808080;border-radius:8px;box-shadow:0 2px 5px rgba(0,0,0,.11), 0 1px 2px rgba(0,0,0,.06);"></div>
<div class="t" style="left:330.30px;top:829.00px;font-size:13.9px;color:#1f2022;letter-spacing:-0.244px;-webkit-text-stroke:0.2px #1f2022;">28 Nov 2023 - 12:57</div>
<div class="t" style="left:565.70px;top:818.00px;font-size:12.4px;color:#1f2022;letter-spacing:-0.279px;-webkit-text-stroke:0.2px #1f2022;">Lina</div>
<div class="t" style="left:565.70px;top:841.00px;font-size:10.3px;color:#1f2022;letter-spacing:0.254px;-webkit-text-stroke:0.2px #1f2022;">0852156687945</div>
<div class="t" style="left:862.10px;top:829.00px;font-size:13.5px;color:#1f2022;letter-spacing:0.253px;-webkit-text-stroke:0.2px #1f2022;">AO.005.2311.00098</div>
<div class="t" style="left:1166.50px;top:829.00px;font-size:13.9px;color:#1f2022;letter-spacing:0.797px;-webkit-text-stroke:0.2px #1f2022;">230.000</div>
<svg class="a" style="left:1283px;top:826.5px;" width="22" height="18.8" viewBox="0 0 30 25.5">
      <rect x="0.7" y="0.7" width="28.6" height="19.6" rx="1.2" fill="#0e7593" stroke="#222326" stroke-width="1.4"/>
      <rect x="1.4" y="17.4" width="27.2" height="2.2" fill="#4a4e55"/>
      <rect x="11.4" y="20.4" width="7.2" height="3" fill="#2a2b2d"/>
      <rect x="8.2" y="23.2" width="13.6" height="1.6" fill="#2a2b2d"/>
      <path d="M8.6 4 H11 L13 11.6 H20.2 L21.8 6.2 H11.6" fill="none" stroke="#1c2a33" stroke-width="1.5" stroke-linejoin="round"/>
      <circle cx="14" cy="14.4" r="1.2" fill="#1c2a33"/><circle cx="19.2" cy="14.4" r="1.2" fill="#1c2a33"/>
    </svg>
<div class="t" style="left:1313.50px;top:828.00px;font-size:13.4px;color:#1f2022;letter-spacing:0.098px;-webkit-text-stroke:0.2px #1f2022;">Toko Online</div>
<div class="a" style="left:1460px;top:820.2px;width:174px;height:30.6px;background:#75787f;border-radius:10px;"></div>
<div class="t" style="left:1472.00px;top:830.00px;font-size:12.9px;color:#2a2c30;letter-spacing:-0.405px;">1. persiapan</div>
<svg class="a" style="left:1608.6px;top:831.5px;" width="9" height="5.4" viewBox="0 0 9 5.4"><polyline points="0.8,0.8 4.5,4.5 8.2,0.8" fill="none" stroke="#2a2b2e" stroke-width="1.4" stroke-linecap="round" stroke-linejoin="round"/></svg>
<div class="a" style="left:1656px;top:820.3px;width:226px;height:30.4px;background:transparent;border-radius:10px;border:2px solid #0d0d0d;"></div>
<svg class="a" style="left:1705px;top:826.6px;" width="17.6" height="17.6" viewBox="0 0 17.6 17.6">
      <g transform="scale(1.0000)"><circle cx="8.8" cy="8.8" r="6.6" fill="#878f88"/>
      <path d="M13 2.5 A7.6 7.6 0 1 0 16.2 7" fill="none" stroke="#141414" stroke-width="1.8" stroke-linecap="round"/>
      <polyline points="5.2,9.2 7.8,11.8 12.8,6.4" fill="none" stroke="#4d7d54" stroke-width="1.35" stroke-linecap="round" stroke-linejoin="round"/></g>
    </svg>
<div class="t" style="left:1729.00px;top:829.00px;font-size:13.0px;color:#16596a;font-weight:700;letter-spacing:0.078px;">Selesai Pesanan</div>
<div class="a" style="left:319.5px;top:885.7px;width:1573.5px;height:77px;background:#808080;border-radius:8px;box-shadow:0 2px 5px rgba(0,0,0,.11), 0 1px 2px rgba(0,0,0,.06);"></div>
<div class="t" style="left:330.30px;top:917.00px;font-size:13.9px;color:#1f2022;letter-spacing:-0.314px;-webkit-text-stroke:0.2px #1f2022;">28 Nov 2023 - 11:39</div>
<div class="t" style="left:565.70px;top:907.00px;font-size:12.4px;color:#1f2022;letter-spacing:0.379px;-webkit-text-stroke:0.2px #1f2022;">Mario</div>
<div class="t" style="left:565.70px;top:930.00px;font-size:10.3px;color:#1f2022;letter-spacing:0.230px;-webkit-text-stroke:0.2px #1f2022;">08123456798</div>
<div class="t" style="left:862.10px;top:907.00px;font-size:13.5px;color:#1c1d1f;font-weight:700;letter-spacing:0.630px;">IV.005.2311.00093</div>
<div class="t" style="left:862.10px;top:928.00px;font-size:13.5px;color:#1f2022;letter-spacing:0.253px;-webkit-text-stroke:0.2px #1f2022;">AO.005.2311.00096</div>
<div class="t" style="left:1167.00px;top:917.00px;font-size:13.9px;color:#1f2022;letter-spacing:0.630px;-webkit-text-stroke:0.2px #1f2022;">242.000</div>
<svg class="a" style="left:1283px;top:915.2px;" width="22" height="18.8" viewBox="0 0 30 25.5">
      <rect x="0.7" y="0.7" width="28.6" height="19.6" rx="1.2" fill="#0e7593" stroke="#222326" stroke-width="1.4"/>
      <rect x="1.4" y="17.4" width="27.2" height="2.2" fill="#4a4e55"/>
      <rect x="11.4" y="20.4" width="7.2" height="3" fill="#2a2b2d"/>
      <rect x="8.2" y="23.2" width="13.6" height="1.6" fill="#2a2b2d"/>
      <path d="M8.6 4 H11 L13 11.6 H20.2 L21.8 6.2 H11.6" fill="none" stroke="#1c2a33" stroke-width="1.5" stroke-linejoin="round"/>
      <circle cx="14" cy="14.4" r="1.2" fill="#1c2a33"/><circle cx="19.2" cy="14.4" r="1.2" fill="#1c2a33"/>
    </svg>
<div class="t" style="left:1313.50px;top:917.00px;font-size:13.4px;color:#1f2022;letter-spacing:0.098px;-webkit-text-stroke:0.2px #1f2022;">Toko Online</div>
<div class="a" style="left:1460px;top:908.9000000000001px;width:174px;height:30.6px;background:#75787f;border-radius:10px;"></div>
<div class="t" style="left:1472.00px;top:919.00px;font-size:12.9px;color:#2a2c30;letter-spacing:-0.405px;">1. persiapan</div>
<svg class="a" style="left:1608.6px;top:920.2px;" width="9" height="5.4" viewBox="0 0 9 5.4"><polyline points="0.8,0.8 4.5,4.5 8.2,0.8" fill="none" stroke="#2a2b2e" stroke-width="1.4" stroke-linecap="round" stroke-linejoin="round"/></svg>
<div class="a" style="left:1656px;top:909.0px;width:226px;height:30.4px;background:transparent;border-radius:10px;border:2px solid #0d0d0d;"></div>
<svg class="a" style="left:1710.8px;top:915.3000000000001px;" width="17.5" height="17.5" viewBox="0 0 17.5 17.5">
      <g transform="scale(0.9943)"><circle cx="8.8" cy="8.8" r="6.6" fill="#878f88"/>
      <path d="M13 2.5 A7.6 7.6 0 1 0 16.2 7" fill="none" stroke="#141414" stroke-width="1.8" stroke-linecap="round"/>
      <polyline points="5.2,9.2 7.8,11.8 12.8,6.4" fill="none" stroke="#4d7d54" stroke-width="1.35" stroke-linecap="round" stroke-linejoin="round"/></g>
    </svg>
<div class="t" style="left:1734.60px;top:917.00px;font-size:13.0px;color:#16596a;font-weight:700;letter-spacing:0.139px;">Kirim Pesanan</div>
<div class="a" style="left:319.5px;top:975px;width:1573.5px;height:77px;background:#808080;border-radius:8px;box-shadow:0 2px 5px rgba(0,0,0,.11), 0 1px 2px rgba(0,0,0,.06);"></div>
<div class="t" style="left:330.30px;top:1006.00px;font-size:13.9px;color:#1f2022;letter-spacing:-0.177px;-webkit-text-stroke:0.2px #1f2022;">28 Nov 2023 - 10:37</div>
<div class="t" style="left:565.70px;top:989.00px;font-size:12.4px;color:#1f2022;letter-spacing:-0.254px;-webkit-text-stroke:0.2px #1f2022;">Raden</div>
<div class="t" style="left:565.70px;top:1012.00px;font-size:10.3px;color:#1f2022;letter-spacing:0.351px;-webkit-text-stroke:0.2px #1f2022;">088998765432</div>
<div class="t" style="left:862.10px;top:995.00px;font-size:13.5px;color:#1c1d1f;font-weight:700;letter-spacing:0.630px;">IV.005.2311.00092</div>
<div class="t" style="left:862.10px;top:1017.00px;font-size:13.5px;color:#1f2022;letter-spacing:0.253px;-webkit-text-stroke:0.2px #1f2022;">AO.005.2311.00095</div>
<div class="t" style="left:1169.00px;top:1006.00px;font-size:13.9px;color:#1f2022;letter-spacing:0.064px;-webkit-text-stroke:0.2px #1f2022;">247.020</div>
<svg class="a" style="left:1283px;top:1004.0px;" width="22" height="18.8" viewBox="0 0 30 25.5">
      <rect x="0.7" y="0.7" width="28.6" height="19.6" rx="1.2" fill="#0e7593" stroke="#222326" stroke-width="1.4"/>
      <rect x="1.4" y="17.4" width="27.2" height="2.2" fill="#4a4e55"/>
      <rect x="11.4" y="20.4" width="7.2" height="3" fill="#2a2b2d"/>
      <rect x="8.2" y="23.2" width="13.6" height="1.6" fill="#2a2b2d"/>
      <path d="M8.6 4 H11 L13 11.6 H20.2 L21.8 6.2 H11.6" fill="none" stroke="#1c2a33" stroke-width="1.5" stroke-linejoin="round"/>
      <circle cx="14" cy="14.4" r="1.2" fill="#1c2a33"/><circle cx="19.2" cy="14.4" r="1.2" fill="#1c2a33"/>
    </svg>
<div class="t" style="left:1313.50px;top:1006.00px;font-size:13.4px;color:#1f2022;letter-spacing:0.098px;-webkit-text-stroke:0.2px #1f2022;">Toko Online</div>
<div class="a" style="left:1460px;top:997.7px;width:174px;height:30.6px;background:#75787f;border-radius:10px;"></div>
<div class="t" style="left:1472.00px;top:1008.00px;font-size:12.9px;color:#2a2c30;letter-spacing:-0.405px;">1. persiapan</div>
<svg class="a" style="left:1608.6px;top:1009.0px;" width="9" height="5.4" viewBox="0 0 9 5.4"><polyline points="0.8,0.8 4.5,4.5 8.2,0.8" fill="none" stroke="#2a2b2e" stroke-width="1.4" stroke-linecap="round" stroke-linejoin="round"/></svg>
<div class="a" style="left:1656px;top:997.8px;width:226px;height:30.4px;background:transparent;border-radius:10px;border:2px solid #0d0d0d;"></div>
<svg class="a" style="left:1705px;top:1004.1px;" width="17.6" height="17.6" viewBox="0 0 17.6 17.6">
      <g transform="scale(1.0000)"><circle cx="8.8" cy="8.8" r="6.6" fill="#878f88"/>
      <path d="M13 2.5 A7.6 7.6 0 1 0 16.2 7" fill="none" stroke="#141414" stroke-width="1.8" stroke-linecap="round"/>
      <polyline points="5.2,9.2 7.8,11.8 12.8,6.4" fill="none" stroke="#4d7d54" stroke-width="1.35" stroke-linecap="round" stroke-linejoin="round"/></g>
    </svg>
<div class="t" style="left:1729.00px;top:1006.00px;font-size:13.0px;color:#16596a;font-weight:700;letter-spacing:0.078px;">Selesai Pesanan</div>
<div class="a" style="left:319.5px;top:1064px;width:1573.5px;height:40px;background:#808080;border-radius:8px;box-shadow:0 2px 5px rgba(0,0,0,.11), 0 1px 2px rgba(0,0,0,.06);"></div>
<div class="a" style="left:315px;top:327px;width:1583px;height:86.4px;background:#f5f7fb;border-radius:16px;box-shadow:0 1px 3px rgba(0,0,0,.22);"></div>
<div class="a" style="left:318.8px;top:330.8px;width:1575.4px;height:78.8px;background:#cfdaeb;border-radius:12.5px;"></div>
<div class="t" style="left:330.30px;top:363.00px;font-size:13.9px;color:#34373c;letter-spacing:-0.094px;-webkit-text-stroke:0.2px #34373c;">28 Nov 2023 - 14:09</div>
<div class="t" style="left:565.00px;top:352.00px;font-size:13.4px;color:#34373c;letter-spacing:0.579px;-webkit-text-stroke:0.2px #34373c;">Gerry</div>
<div class="t" style="left:565.00px;top:377.00px;font-size:10.3px;color:#2f3136;letter-spacing:0.388px;-webkit-text-stroke:0.2px #34373c;">085974175544</div>
<div class="t" style="left:862.10px;top:352.00px;font-size:13.5px;color:#2b2d31;font-weight:700;letter-spacing:0.630px;">IV.005.2311.00097</div>
<div class="t" style="left:862.10px;top:374.00px;font-size:13.5px;color:#34373c;letter-spacing:0.209px;-webkit-text-stroke:0.2px #34373c;">AO.005.2311.00100</div>
<div class="t" style="left:1168.00px;top:363.00px;font-size:13.9px;color:#34373c;letter-spacing:0.380px;-webkit-text-stroke:0.2px #34373c;">594.500</div>
<svg class="a" style="left:1283px;top:361px;" width="22" height="18.8" viewBox="0 0 30 25.5">
      <rect x="0.7" y="0.7" width="28.6" height="19.6" rx="1.2" fill="#1ea7d8" stroke="#2c3a4a" stroke-width="1.4"/>
      <rect x="1.4" y="17.4" width="27.2" height="2.2" fill="#c3c9d6"/>
      <rect x="11.4" y="20.4" width="7.2" height="3" fill="#2a2d33"/>
      <rect x="8.2" y="23.2" width="13.6" height="1.6" fill="#2a2d33"/>
      <path d="M8.6 4 H11 L13 11.6 H20.2 L21.8 6.2 H11.6" fill="none" stroke="#eef8fc" stroke-width="1.5" stroke-linejoin="round"/>
      <circle cx="14" cy="14.4" r="1.2" fill="#eef8fc"/><circle cx="19.2" cy="14.4" r="1.2" fill="#eef8fc"/>
    </svg>
<div class="t" style="left:1313.50px;top:363.00px;font-size:13.4px;color:#34373c;letter-spacing:0.098px;-webkit-text-stroke:0.2px #34373c;">Toko Online</div>
<div class="a" style="left:1460px;top:354.7px;width:174px;height:30.6px;background:#e6ebf5;border-radius:10px;"></div>
<div class="t" style="left:1472.00px;top:365.00px;font-size:12.9px;color:#4a4d53;letter-spacing:-0.405px;">1. persiapan</div>
<svg class="a" style="left:1608.6px;top:366px;" width="9" height="5.4" viewBox="0 0 9 5.4"><polyline points="0.8,0.8 4.5,4.5 8.2,0.8" fill="none" stroke="#3a3c40" stroke-width="1.4" stroke-linecap="round" stroke-linejoin="round"/></svg>
<div class="a" style="left:1656px;top:354.8px;width:226px;height:30.4px;background:#ffffff;border-radius:10px;border:2px solid #0a0a0a;"></div>
<svg class="a" style="left:1710.8px;top:361.1px;" width="17.5" height="17.5" viewBox="0 0 17.5 17.5">
      <g transform="scale(0.9943)"><circle cx="8.8" cy="8.8" r="6.6" fill="#e9f6e9"/>
      <path d="M13 2.5 A7.6 7.6 0 1 0 16.2 7" fill="none" stroke="#141414" stroke-width="1.8" stroke-linecap="round"/>
      <polyline points="5.2,9.2 7.8,11.8 12.8,6.4" fill="none" stroke="#7cc47c" stroke-width="1.35" stroke-linecap="round" stroke-linejoin="round"/></g>
    </svg>
<div class="t" style="left:1734.60px;top:363.00px;font-size:13.0px;color:#2aa4da;font-weight:700;letter-spacing:0.139px;">Kirim Pesanan</div>
<div class="a" style="left:315px;top:415.5px;width:1583px;height:362.5px;background:#f8f9fb;border-radius:16px;box-shadow:0 1px 3px rgba(0,0,0,.25);"></div>
<div class="a" style="left:318.6px;top:419px;width:1085.2px;height:354.6px;background:#f0f2f6;border-radius:12px;border:1.8px solid #111;"></div>
<div class="a" style="left:1420.6px;top:419px;width:472.8px;height:354.6px;background:#f0f2f6;border-radius:12px;border:1.8px solid #111;"></div>
<div class="t" style="left:342.50px;top:435.00px;font-size:13.2px;color:#2c2e32;font-weight:700;letter-spacing:0.123px;">Info Produk yang Dipesan</div>
<div class="t" style="left:911.00px;top:435.00px;font-size:13.2px;color:#2c2e32;font-weight:700;letter-spacing:0.056px;">Jumlah Pesanan</div>
<div class="t" style="left:1070.70px;top:435.00px;font-size:13.2px;color:#2c2e32;font-weight:700;letter-spacing:0.277px;">Harga</div>
<div class="t" style="left:1169.00px;top:435.00px;font-size:13.2px;color:#2c2e32;font-weight:700;letter-spacing:0.127px;">Potongan</div>
<div class="t" style="left:1326.60px;top:435.00px;font-size:13.2px;color:#2c2e32;font-weight:700;letter-spacing:0.250px;">Subtotal</div>
<div class="a" style="left:331px;top:453.2px;width:1061px;height:1px;background:#7d7f84;"></div>
<div class="t" style="left:342.50px;top:469.00px;font-size:13.4px;color:#3a3d42;letter-spacing:0.006px;">In The Middle of Process Tee Hitam S</div>
<div class="t" style="left:959.47px;top:469.00px;font-size:13.4px;color:#3a3d42;-webkit-text-stroke:0.2px #3a3d42;">1</div>
<div class="t" style="left:1063.60px;top:469.00px;font-size:13.4px;color:#3a3d42;letter-spacing:0.616px;-webkit-text-stroke:0.2px #3a3d42;">170.000</div>
<div class="t" style="left:1195.87px;top:469.00px;font-size:13.4px;color:#d8414f;">0</div>
<div class="t" style="left:1329.00px;top:469.00px;font-size:13.4px;color:#3a3d42;letter-spacing:0.632px;-webkit-text-stroke:0.2px #3a3d42;">170.000</div>
<div class="t" style="left:342.50px;top:502.00px;font-size:13.4px;color:#3a3d42;letter-spacing:0.091px;">In The Middle of Process Tee Hitam M</div>
<div class="t" style="left:959.47px;top:502.00px;font-size:13.4px;color:#3a3d42;-webkit-text-stroke:0.2px #3a3d42;">1</div>
<div class="t" style="left:1063.60px;top:502.00px;font-size:13.4px;color:#3a3d42;letter-spacing:0.616px;-webkit-text-stroke:0.2px #3a3d42;">170.000</div>
<div class="t" style="left:1195.87px;top:502.00px;font-size:13.4px;color:#d8414f;">0</div>
<div class="t" style="left:1329.00px;top:502.00px;font-size:13.4px;color:#3a3d42;letter-spacing:0.632px;-webkit-text-stroke:0.2px #3a3d42;">170.000</div>
<div class="t" style="left:342.50px;top:535.00px;font-size:13.4px;color:#3a3d42;letter-spacing:0.043px;">In The Middle of Process Tee Hitam L</div>
<div class="t" style="left:959.47px;top:535.00px;font-size:13.4px;color:#3a3d42;-webkit-text-stroke:0.2px #3a3d42;">1</div>
<div class="t" style="left:1063.60px;top:535.00px;font-size:13.4px;color:#3a3d42;letter-spacing:0.616px;-webkit-text-stroke:0.2px #3a3d42;">170.000</div>
<div class="t" style="left:1195.87px;top:535.00px;font-size:13.4px;color:#d8414f;">0</div>
<div class="t" style="left:1329.00px;top:535.00px;font-size:13.4px;color:#3a3d42;letter-spacing:0.632px;-webkit-text-stroke:0.2px #3a3d42;">170.000</div>
<div class="a" style="left:331px;top:564px;width:1061px;height:32.2px;background:#dce2ec;border-radius:10px;"></div>
<div class="t" style="left:342.50px;top:574.00px;font-size:13.4px;color:#2c2e32;font-weight:700;letter-spacing:0.105px;">Subtotal</div>
<div class="t" style="left:959.47px;top:574.00px;font-size:13.4px;color:#2c2e32;font-weight:700;">3</div>
<div class="t" style="left:1195.87px;top:574.00px;font-size:13.4px;color:#d8414f;font-weight:700;">0</div>
<div class="t" style="left:1325.70px;top:574.00px;font-size:13.4px;color:#2c2e32;font-weight:700;letter-spacing:1.182px;">510.000</div>
<div class="t" style="left:342.50px;top:612.00px;font-size:13.4px;color:#3a3d42;letter-spacing:-0.104px;-webkit-text-stroke:0.2px #3a3d42;">Servis</div>
<div class="t" style="left:1336.00px;top:612.00px;font-size:13.4px;color:#3a3d42;letter-spacing:0.846px;-webkit-text-stroke:0.2px #3a3d42;">25.500</div>
<div class="t" style="left:342.50px;top:640.00px;font-size:13.4px;color:#3a3d42;letter-spacing:-0.375px;-webkit-text-stroke:0.2px #3a3d42;">Pajak</div>
<div class="t" style="left:1337.80px;top:640.00px;font-size:13.4px;color:#3a3d42;letter-spacing:0.486px;-webkit-text-stroke:0.2px #3a3d42;">51.000</div>
<div class="t" style="left:342.50px;top:667.00px;font-size:13.4px;color:#3a3d42;letter-spacing:0.509px;-webkit-text-stroke:0.2px #3a3d42;">Ongkir</div>
<div class="t" style="left:1342.60px;top:667.00px;font-size:13.4px;color:#3a3d42;letter-spacing:1.271px;-webkit-text-stroke:0.2px #3a3d42;">8.000</div>
<div class="a" style="left:331px;top:695.8px;width:1061px;height:33px;background:#dce2ec;border-radius:10px;"></div>
<div class="t" style="left:342.50px;top:706.00px;font-size:13.4px;color:#2c2e32;font-weight:700;letter-spacing:-0.023px;">TOTAL</div>
<div class="t" style="left:1325.70px;top:706.00px;font-size:13.4px;color:#2c2e32;font-weight:700;letter-spacing:1.182px;">594.500</div>
<div class="t" style="left:342.50px;top:744.00px;font-size:13.4px;color:#3a3d42;letter-spacing:-0.036px;-webkit-text-stroke:0.2px #3a3d42;">Pembayaran:</div>
<div class="t" style="left:425.80px;top:744.00px;font-size:13.4px;color:#2c2e32;font-weight:700;letter-spacing:0.194px;">Transfer</div>
<div class="t" style="left:1328.00px;top:744.00px;font-size:13.4px;color:#3a3d42;letter-spacing:0.799px;-webkit-text-stroke:0.2px #3a3d42;">594.500</div>
<div class="t" style="left:1444.20px;top:432.00px;font-size:13.2px;color:#2c2e32;font-weight:700;letter-spacing:0.175px;">Pengiriman</div>
<div class="a" style="left:1730.4px;top:426px;width:139.6px;height:26.2px;background:#f0f2f6;border-radius:13.1px;border:2px solid #0c0c0c;"></div>
<svg class="a" style="left:1743px;top:430px;" width="18" height="18" viewBox="0 0 18 18">
      <path d="M12.6 1.8 A8 8 0 1 0 16.2 6" fill="none" stroke="#141414" stroke-width="1.5" stroke-linecap="round"/>
      <path d="M6.4 6.2 L11.4 11.2 M11.4 6.2 L6.4 11.2" stroke="#e0455a" stroke-width="1.5" stroke-linecap="round"/>
    </svg>
<div class="t" style="left:1767.00px;top:433.00px;font-size:12.8px;color:#2aa5db;font-weight:700;letter-spacing:0.167px;">Batal Pesanan</div>
<div class="a" style="left:1433px;top:457px;width:448px;height:1px;background:#7d7f84;"></div>
<div class="t" style="left:1444.20px;top:473.00px;font-size:13.4px;color:#3a3d42;letter-spacing:0.078px;">Total Berat</div>
<div class="t" style="left:1556.00px;top:473.00px;font-size:13.4px;color:#2c2e32;font-weight:700;letter-spacing:-0.081px;">: 0 Kg</div>
<div class="t" style="left:1444.20px;top:495.00px;font-size:13.4px;color:#3a3d42;letter-spacing:0.197px;">Dikirim Melalui</div>
<div class="t" style="left:1556.00px;top:495.00px;font-size:13.4px;color:#2c2e32;font-weight:700;letter-spacing:0.051px;">: Jalur Nugraha Ekakurir (JNE)</div>
<div class="t" style="left:1444.20px;top:517.00px;font-size:13.4px;color:#3a3d42;letter-spacing:0.119px;">Jenis Pengiriman</div>
<div class="t" style="left:1556.00px;top:517.00px;font-size:13.4px;color:#2c2e32;font-weight:700;letter-spacing:0.199px;">: JNE City Courier (CTC) = 8.000 (ETD : 1-2 days)</div>
<div class="t" style="left:1444.20px;top:539.00px;font-size:13.4px;color:#3a3d42;letter-spacing:0.046px;">Nama Penerima</div>
<div class="t" style="left:1556.00px;top:539.00px;font-size:13.4px;color:#2c2e32;font-weight:700;letter-spacing:0.230px;">: Gerry</div>
<div class="t" style="left:1444.20px;top:561.00px;font-size:13.4px;color:#3a3d42;letter-spacing:0.037px;">No. Telepon</div>
<div class="t" style="left:1556.00px;top:561.00px;font-size:13.4px;color:#2c2e32;font-weight:700;letter-spacing:0.450px;">: 085974175544</div>
<div class="t" style="left:1444.20px;top:583.00px;font-size:13.4px;color:#3a3d42;letter-spacing:0.282px;">Alamat</div>
<div class="t" style="left:1556.00px;top:583.00px;font-size:13.4px;color:#2c2e32;font-weight:700;letter-spacing:0.228px;">: 123506789</div>
<div class="t" style="left:1444.20px;top:605.00px;font-size:13.4px;color:#3a3d42;letter-spacing:0.058px;">Propinsi</div>
<div class="t" style="left:1556.00px;top:605.00px;font-size:13.4px;color:#2c2e32;font-weight:700;letter-spacing:0.063px;">: Jawa Barat</div>
<div class="t" style="left:1444.20px;top:627.00px;font-size:13.4px;color:#3a3d42;letter-spacing:0.287px;">Kota / Kabupaten</div>
<div class="t" style="left:1556.00px;top:627.00px;font-size:13.4px;color:#2c2e32;font-weight:700;letter-spacing:-0.006px;">: Kabupaten Bandung</div>
<div class="t" style="left:1444.20px;top:649.00px;font-size:13.4px;color:#3a3d42;letter-spacing:0.219px;">Kecamatan</div>
<div class="t" style="left:1556.00px;top:649.00px;font-size:13.4px;color:#2c2e32;font-weight:700;">: Dayeuhkolot</div>
<div class="t" style="left:1444.20px;top:671.00px;font-size:13.4px;color:#3a3d42;letter-spacing:-0.140px;">Kode Pos</div>
<div class="t" style="left:1556.00px;top:671.00px;font-size:13.4px;color:#2c2e32;font-weight:700;letter-spacing:-0.170px;">: 0</div>
<div class="t" style="left:1444.20px;top:708.00px;font-size:13.4px;color:#3a3d42;letter-spacing:-0.099px;-webkit-text-stroke:0.2px #3a3d42;">Status Transaksi</div>
<div class="t" style="left:1555.80px;top:708.00px;font-size:13.4px;color:#2c2e32;font-weight:700;">:</div>
<div class="a" style="left:1563.5px;top:700px;width:305px;height:30.6px;background:#e7ebf5;border-radius:10px;"></div>
<div class="t" style="left:1567.80px;top:710.00px;font-size:12.9px;color:#44474d;letter-spacing:-0.277px;">Pesanan dalam proses</div>
<svg class="a" style="left:1852.8px;top:712.6px;" width="9.8" height="5.8" viewBox="0 0 9.8 5.8"><polyline points="0.8,0.8 4.9,4.8999999999999995 9.0,0.8" fill="none" stroke="#2a2c30" stroke-width="1.9" stroke-linecap="round" stroke-linejoin="round"/></svg>
</div>
</body>
</html>
